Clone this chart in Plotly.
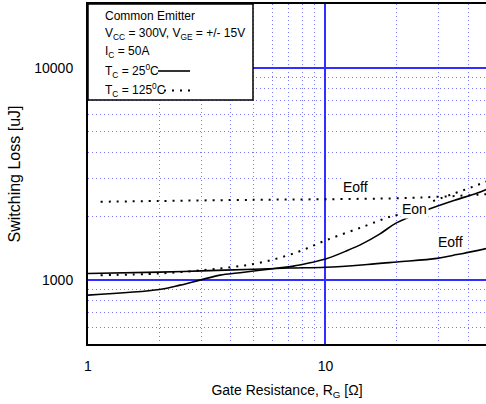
import plotly.graph_objects as go

# ---- data ----
eon25_r = [1.0, 2.0, 2.44, 2.96, 3.6, 4.37, 5.66, 7.33, 8.6, 10.0, 12.3, 14.4, 16.9, 19.9, 26.6, 35.0, 43.3, 47.8]
eon25_v = [850, 904, 947, 1000, 1056, 1083, 1123, 1164, 1207, 1256, 1375, 1490, 1648, 1860, 2138, 2380, 2563, 2680]

eoff25_r = [1.0, 2.0, 3.0, 5.0, 7.0, 10.0, 15.0, 20.0, 29.5, 34.6, 38.0, 47.8]
eoff25_v = [1075, 1090, 1105, 1125, 1140, 1150, 1185, 1218, 1266, 1310, 1336, 1410]

eon125_r = [1.13, 2.0, 3.6, 5.15, 7.35, 10.2, 14.4, 18.7, 20.1, 27.6, 35.5, 41.8, 47.8]
eon125_v = [1055, 1075, 1135, 1200, 1336, 1550, 1785, 1990, 2030, 2330, 2580, 2755, 2920]

eoff125_r = [1.13, 2.0, 5.0, 10.0, 20.0, 25.0, 35.0, 47.8]
eoff125_v = [2340, 2360, 2390, 2405, 2430, 2450, 2490, 2540]

x_major = [1, 10]
x_minor = [2, 3, 4, 5, 6, 7, 8, 9, 20, 30, 40]
y_major = [1000, 10000]
y_minor = [600, 700, 800, 900, 2000, 3000, 4000, 5000, 6000, 7000, 8000, 9000]
y_ticktext = ["1000", "10000"]
x_ticktext = ["1", "10"]

FONT = "Liberation Sans, Arial, sans-serif"
DOT = "2px,6px"
GRIDDOT = "1px,3px"

fig = go.Figure()
fig.add_trace(go.Scatter(x=eoff125_r, y=eoff125_v, mode="lines",
                         line=dict(color="black", width=2, dash=DOT, shape="spline")))
fig.add_trace(go.Scatter(x=eon125_r, y=eon125_v, mode="lines",
                         line=dict(color="black", width=2, dash=DOT, shape="spline")))
fig.add_trace(go.Scatter(x=eoff25_r, y=eoff25_v, mode="lines",
                         line=dict(color="black", width=1.6, shape="spline")))
fig.add_trace(go.Scatter(x=eon25_r, y=eon25_v, mode="lines",
                         line=dict(color="black", width=1.6, shape="spline")))

# plot-area geometry in pixels (for placing the legend box / labels)
L, R, T, B = 88, 486, 4, 344


def px(xp):
    return (xp - L) / (R - L)


def py(yp):
    return (B - yp) / (B - T)


annots = []
# curve labels
for txt, xc, yc in [("Eoff", 355, 187), ("Eon", 414.5, 209), ("Eoff", 450.5, 242.5)]:
    annots.append(dict(x=px(xc), y=py(yc), xref="paper", yref="paper", text=txt,
                       showarrow=False, xanchor="center", yanchor="middle",
                       bgcolor="white", borderpad=1,
                       font=dict(family=FONT, size=14, color="black")))

# legend box text
legend_lines = [
    ("Common Emitter", 16),
    ("V<sub>CC</sub> = 300V, V<sub>GE</sub> = +/- 15V", 33.5),
    ("I<sub>C</sub> = 50A", 51.7),
    ("T<sub>C</sub> = 25<sup>0</sup>C", 70.7),
    ("T<sub>C</sub> = 125<sup>0</sup>C", 90),
]
for txt, yc in legend_lines:
    annots.append(dict(x=px(102.5), y=py(yc), xref="paper", yref="paper", text=txt,
                       showarrow=False, xanchor="left", yanchor="middle",
                       font=dict(family=FONT, size=12, color="black")))

shapes = [
    dict(type="rect", xref="paper", yref="paper", x0=0, x1=px(253), y0=py(100), y1=1,
         line=dict(color="black", width=1.5), fillcolor="white", layer="above"),
    dict(type="line", xref="paper", yref="paper", x0=px(158), x1=px(190),
         y0=py(71), y1=py(71), line=dict(color="black", width=1.6), layer="above"),
    dict(type="line", xref="paper", yref="paper", x0=px(164), x1=px(193),
         y0=py(90.5), y1=py(90.5), line=dict(color="black", width=2, dash=DOT), layer="above"),
]

fig.update_layout(
    width=486, height=404,
    margin=dict(l=L, r=486 - R, t=T, b=404 - B),
    paper_bgcolor="white", plot_bgcolor="white",
    showlegend=False,
    font=dict(family=FONT, size=14, color="black"),
    annotations=annots,
    shapes=shapes,
)

fig.update_xaxes(
    type="log", range=[0, 1.676],
    tickmode="array", tickvals=x_major, ticktext=x_ticktext, ticks="",
    ticklabelstandoff=8,
    showgrid=True, gridcolor="#2f2fff", gridwidth=1.5,
    minor=dict(tickmode="array", tickvals=x_minor, showgrid=True,
               gridcolor="#7878ff", gridwidth=1, griddash=GRIDDOT, ticks=""),
    showline=True, linecolor="black", linewidth=2, mirror=True,
    zeroline=False,
    title=dict(text="Gate Resistance, R<sub>G</sub> [Ω]", standoff=12,
               font=dict(family=FONT, size=14)),
    tickfont=dict(family=FONT, size=14),
)
fig.update_yaxes(
    type="log", range=[2.69897, 4.30103],
    tickmode="array", tickvals=y_major, ticktext=y_ticktext, ticks="",
    ticklabelstandoff=10,
    showgrid=True, gridcolor="#2f2fff", gridwidth=1.5,
    minor=dict(tickmode="array", tickvals=y_minor, showgrid=True,
               gridcolor="#7878ff", gridwidth=1, griddash=GRIDDOT, ticks=""),
    showline=True, linecolor="black", linewidth=2, mirror=False,
    zeroline=False,
    title=dict(text="Switching Loss [uJ]", standoff=10,
               font=dict(family=FONT, size=16)),
    tickfont=dict(family=FONT, size=14),
)

fig.write_html("out.html", config={"displayModeBar": False},
               post_script="document.body.style.margin='0';")
